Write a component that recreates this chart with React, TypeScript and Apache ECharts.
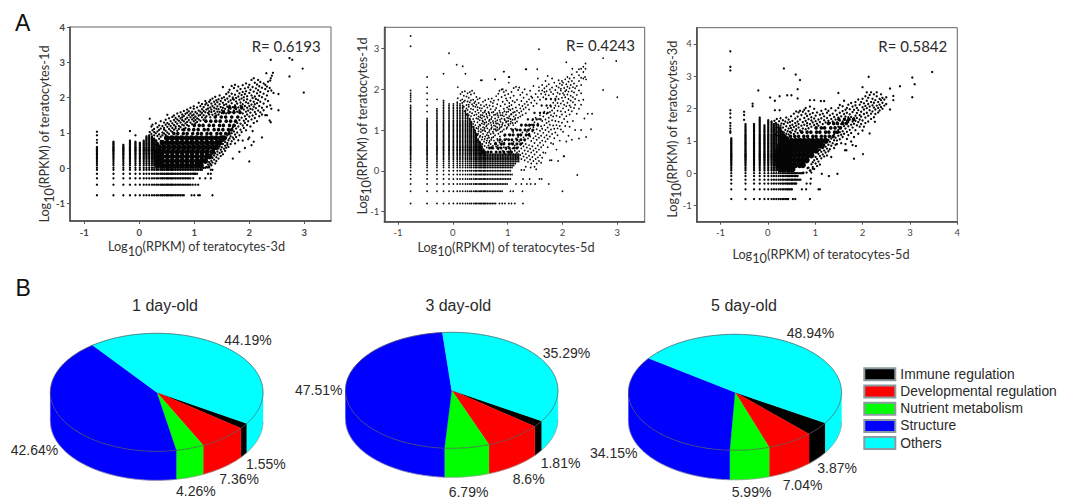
import React, { useEffect, useRef } from "react";
import * as echarts from "echarts";

// ---------- values ----------
const xTicks1 = [-1, 0, 1, 2, 3];
const yTicks1 = [-1, 0, 1, 2, 3, 4];
const xTicks2 = [-1, 0, 1, 2, 3];
const yTicks2 = [-1, 0, 1, 2, 3];
const xTicks3 = [-1, 0, 1, 2, 3, 4];
const yTicks3 = [-1, 0, 1, 2, 3, 4];

// Discrete log10(RPKM) levels visible as the stripes of the low range
const levelsX = [-.77,-.47,-.29,-.17,-.07,.01,.08,.13,.18,.23,.27,.31,.34,.38,.41,.43,.46,.49,.51,.53,.56,.58,.6,.63,.66,.69,.72,.75,.78,.81,.84,.87,.9,.93,.96,.99,1.02,1.05,1.08,1.11,1.14,1.17,1.2];
const lowY1 = [-.77,-.47,-.29,-.16,-.05,.01];
const lowY23 = [-.8,-.5,-.32,-.2,-.09,0];
const upperY = [.08,.13,.18,.23,.27,.31,.34,.38,.41,.43,.46,.49,.51,.53,.56,.58,.6,.63,.66,.69,.72,.75,.78,.81,.84,.87,.9,.93,.96,.99,1.02,1.05,1.08,1.11,1.14,1.17,1.2,1.24,1.28,1.32,1.36,1.4,1.44,1.48,1.52,1.56,1.6,1.64,1.68,1.72,1.76,1.8,1.85,1.9];

// Top of each visible stripe (by levelsX index); stripes past the list stop at the last value
const colTops1 = [.62,.75,.68,.8,.75,.73,.8,.9,.95,.9,.85,.8,.7,.6,.5,.45,.02];
const colTops2 = [1.6,1.3,1.55,1.72,1.65,1.65,1.7,1.65,1.6,1.5,1.4,1.3,1.2,1.1,1,.9,.8,.72,.66,.6,.55,.5,.46,.42];
const colTops3 = [1.1,1.55,1.55,1.75,1.5,1.65,1.6,1.55,1.55,1.45,1.4,1.3,1.2,1.15,1.1,1.1,1,.95,.01];
// Right end of each horizontal stripe (by row index); rows past the list stop at the last value
const rowEnds1 = [.82,.95,.95,1.05,1.15,1.2,1.2];
const rowEnds2 = [.78,.9,1,1.05,1.1,1.05,1.1,1.12,1.15,1.2];
const rowEnds3 = [.45,.52,.6,.7,.65,.75,.7,.75,.8];

// Solid parts of each cloud: [y, xs]
const core1: [number, number[]][] = [
  [.08,[.33,.42,.51,.6,.69,.78,.87,.96,1.05,1.12]],
  [.2,[.33,.42,.51,.6,.69,.78,.87,.96,1.05,1.13,1.2]],
  [.33,[.33,.42,.51,.6,.69,.78,.87,.96,1.05,1.14,1.23,1.28]],
  [.46,[.33,.42,.51,.6,.69,.78,.87,.96,1.05,1.14,1.23,1.33]],
  [.59,[.36,.45,.54,.63,.72,.81,.9,.99,1.08,1.17,1.26,1.35,1.4]],
  [.72,[.42,.51,.6,.69,.78,.87,.96,1.05,1.14,1.23,1.32,1.41,1.46]],
  [.85,[.5,.59,.68,.77,.86,.95,1.04,1.13,1.22,1.31,1.4,1.49,1.54]],
];
const mid1: [number, number[]][] = [
  [.98,[.63,.7,.8,.87,.97,1.06,1.13,1.23,1.3,1.41,1.48,1.57,1.63]],
  [1.09,[.81,.9,.99,1.07,1.18,1.25,1.36,1.44,1.52,1.62,1.68]],
  [1.21,[1,1.09,1.16,1.27,1.35,1.46,1.53,1.64,1.72]],
  [1.33,[1.21,1.3,1.39,1.47,1.58,1.66,1.75]],
  [1.45,[1.38,1.49,1.57,1.68,1.79]],
  [1.58,[1.53,1.63,1.72,1.83]],
  [1.72,[1.64,1.74,1.86]],
];
const core2: [number, number[]][] = [
  [.46,[.55,.64,.7,.79,.86,.93,1.02,1.07]],
  [.56,[.67,.72,.82,.88,.97,1.03,1.12,1.17]],
  [.66,[.78,.88,.93,1.03,1.09,1.17,1.24]],
  [.76,[.86,.95,1.02,1.08,1.17,1.24,1.31]],
  [.88,[.95,1.04,1.1,1.19,1.24,1.34,1.39]],
  [1,[1.09,1.17,1.23,1.32,1.38,1.46]],
  [1.12,[1.25,1.33,1.4,1.47,1.55]],
];
const mid2: [number, number[]][] = [
  [1.26,[1.37,1.46,1.53,1.6]],
  [1.42,[1.49,1.59,1.66,1.73]],
  [1.6,[1.62,1.71,1.78]],
  [1.76,[1.7,1.79,1.87]],
];
const core3: [number, number[]][] = [
  [.12,[.26,.35,.44,.52]],
  [.25,[.22,.31,.4,.49,.58,.67,.74]],
  [.4,[.2,.29,.38,.47,.56,.65,.74,.82]],
  [.55,[.2,.29,.38,.47,.56,.65,.74,.83,.92]],
  [.7,[.22,.31,.4,.49,.58,.67,.76,.85,.94,1.02]],
  [.85,[.26,.35,.44,.53,.62,.71,.8,.89,.98,1.07,1.14]],
  [1,[.32,.41,.5,.59,.68,.77,.86,.95,1.04,1.13,1.22]],
];
const mid3: [number, number[]][] = [
  [1.14,[.48,.57,.65,.76,.84,.95,1.02,1.13,1.21,1.3,1.38]],
  [1.27,[.72,.83,.91,1.03,1.1,1.22,1.29,1.41,1.47]],
  [1.4,[1.02,1.13,1.2,1.33,1.42,1.53]],
  [1.54,[1.28,1.39,1.47,1.58,1.66]],
  [1.67,[1.5,1.62,1.71,1.81]],
];

// Loose dots: [x, ys]
const loose1: [number, number[]][] = [
  [.19,[1.4,1.02]],[.22,[1.18,.97]],[.24,[1.07,1.23]],[.27,[.93,1.11,1.02]],[.3,[1.27,.99,.78,.66]],[.33,[1.04,.91,1.16,.71]],[.36,[1.21,.96,1.08,.83]],[.39,[1.12,1.33,.89,.77]],[.42,[1.01,1.19,.93]],[.45,[1.09,1.29,.98,1.14]],[.48,[.94,1.37,1.06,1.23]],[.51,[1.17,1.01,1.28,1.51]],[.54,[1.11,1.41,1.24,.97]],[.57,[1.33,1.06,1.19]],[.6,[1.02,1.45,1.27,1.14]],[.63,[1.22,1.36,1.09,1.49]],[.66,[1.31,1.13,1.42,1.18]],[.69,[1.06,1.55,1.26,1.38]],[.72,[1.47,1.19,1.34,1.11]],[.75,[1.29,1.58,1.16,1.41]],[.78,[1.23,1.44,1.09,1.36,1.52]],[.81,[1.33,1.62,1.21,1.48]],[.84,[1.27,1.54,1.39,1.14]],[.87,[1.43,1.66,1.31,1.57,1.22]],[.9,[1.36,1.5,1.19,1.61]],[.93,[1.29,1.71,1.44,1.55]],[.96,[1.38,1.6,1.24,1.49]],[.99,[1.33,1.68,1.52,1.42,1.75]],[1.02,[1.46,1.27,1.59,1.36]],[1.05,[1.41,1.72,1.55,1.31]],[1.08,[1.63,1.38,1.85,1.49]],[1.11,[1.51,1.34,1.76,1.6]],[1.14,[1.44,1.67,1.82,1.56]],[1.17,[1.37,1.73,1.5,1.62]],[1.2,[1.58,1.9,1.43,1.8]],
  [1.22,[.03,1.47,1.66,1.84]],[1.25,[.1,1.56,1.78,1.69]],[1.27,[.05,.17,1.52,1.88,1.61]],[1.29,[.12,1.72,1.44,1.93]],[1.31,[.21,.08,1.83,1.59,1.66]],[1.33,[.16,.29,1.51,1.76,1.97]],[1.36,[.24,.36,1.62,1.88,1.71]],[1.38,[.13,.42,1.55,1.81,2.02]],[1.4,[.31,.2,1.68,1.92,1.49]],[1.42,[.47,.38,1.75,1.6,1.87]],[1.44,[.27,.56,1.95,1.67,1.52]],[1.46,[.43,.62,1.81,1.59,2.06]],[1.48,[.34,.52,.7,1.73,1.9]],[1.5,[.59,.46,1.64,1.98,1.56]],[1.52,[.68,.39,.77,1.85,2.3,1.71]],[1.54,[.55,.83,1.79,1.62,2.01]],[1.56,[.63,.49,.74,1.93,1.68]],[1.58,[.86,.58,2.1,1.81,1.55]],[1.6,[.71,.93,.66,1.74,1.97]],[1.62,[.79,.6,1.88,1.64,2.15]],[1.64,[.97,.84,1.03,2.04,1.77,2.22]],[1.66,[.68,.9,1.69,1.92,1.58]],[1.68,[1.08,.76,.99,1.84,2.11,2.33]],[1.7,[.27,.87,1.16,1.73,2,1.96]],[1.72,[.82,1.04,1.94,1.63,2.27]],[1.74,[.95,.7,1.21,1.78,2.08,2.36]],[1.76,[1.12,.88,1.67,1.99,1.89]],[1.78,[1.01,1.28,1.83,2.19,1.6]],[1.8,[.79,1.18,1.72,2.03,2.31]],[1.82,[.46,.93,1.36,1.94,1.64,2.12]],[1.84,[1.09,1.26,1.77,2.24,1.86]],[1.86,[1.43,1.02,1.69,2.07,1.97]],[1.88,[.78,1.21,1.55,1.81,2.35,2.16]],[1.9,[1.14,1.34,1.92,1.66,2.01]],[1.92,[.57,1.28,1.47,1.76,2.26,2.1]],[1.94,[1.07,1.39,1.6,1.87,2.4,2.18]],[1.96,[1.22,1.52,1.71,2.04,1.95]],[1.98,[.82,1.33,1.63,1.84,2.29]],[2,[.19,.87,1.46,1.76,2.13,2.36]],[2.02,[1.18,1.57,1.91,2.22,1.68]],[2.04,[.65,1.38,1.8,2.06,2.5]],[2.06,[1.05,1.49,1.66,1.99,2.3]],[2.08,[1.28,1.74,1.88,2.17,2.55]],[2.1,[1.42,1.59,2.03,2.42,1.81]],[2.12,[1.53,1.96,2.26,1.7]],[2.14,[1.33,1.84,2.12,2.37]],[2.16,[1.63,2.21,1.93,2.5]],[2.18,[1.47,1.76,2.05,2.32]],[2.2,[1.58,1.88,2.16,2.44]],[2.23,[.87,1.71,2.01,2.28,1.52]],[2.26,[1.83,2.11,2.4,1.64]],[2.29,[1.5,1.95,2.24,2.36]],[2.32,[2.06,1.74,2.31]],[2.34,[1.9,2.18,2.45]],
];
const outliers1: number[][] = [[2.39,3.07],[2.73,3.12],[2.78,3.07],[2.97,2.82],[2.73,2.6],[2.99,2.14],[2.31,2.69],[2.43,2.7],[2.41,2.62],[2.39,2.55],[2.38,2.48],[2.37,2.27],[2.4,2.2],[2.44,2.13],[2.53,2.1],[2.38,1.78],[2.4,1.68],[2.53,1.64],[2.32,1.5],[2.37,1.35],[2.39,1.3],[2.08,.75],[.95,-.77],[1,-.77],[1.07,-.77],[1.1,-.77],[1.33,-.77],[.97,-.47],[1.02,-.47],[1.07,-.47],[.98,-.29],[1.1,-.29],[1.2,-.29],[1.3,-.29],[1,-.16],[1.25,-.16],[1.3,-.16],[1.3,-.05],[1.33,-.05],[1.24,.02],[1.27,.02],[-.77,.72],[-.77,.8],[-.77,.93],[-.77,1.03],[-.17,1.05],[-.07,.93]];

const loose2: [number, number[]][] = [
  [.09,[1.78,2.05]],[.14,[1.72,1.88]],[.17,[1.75,1.93,1.66]],[.2,[1.57,1.84,1.69]],[.22,[1.72,1.95,1.46]],[.25,[1.61,1.38,1.82,1.53]],[.27,[1.49,1.9,1.7,1.28]],[.29,[1.36,1.57,1.79,1.62]],[.31,[1.44,1.25,1.68,1.93]],[.33,[1.18,1.52,1.73,1.34,1.87]],[.35,[1.41,1.63,1.08,1.96]],[.37,[1.27,1.5,1.74,1.15,1.59]],[.39,[1,1.36,1.66,1.9,1.21]],[.41,[1.12,1.45,1.57,.94,1.7]],[.43,[1.29,1.05,1.62,1.38,1.81]],[.45,[.88,1.19,1.49,1.75,1.56]],[.47,[1.08,1.33,.97,1.66,1.42]],[.49,[.83,1.24,1.54,1.13,1.78]],[.51,[.95,1.37,1.02,1.61,1.47]],[.53,[.77,1.16,1.29,1.53,2.22]],[.55,[.9,1.42,1.07,1.69,1.21]],[.57,[.72,1,1.33,1.58,1.14]],[.59,[.84,1.26,.97,1.48,1.73]],[.61,[.68,1.09,1.39,1.19,1.62]],[.63,[.79,.93,1.3,1.55,1.04]],[.65,[.62,1.15,.86,1.44,1.76]],[.67,[.73,1,1.25,1.36,1.6]],[.69,[.66,.9,1.18,1.51,1.69]],[.71,[.81,1.07,1.32,1.43,1.77]],[.73,[.61,.96,1.22,1.58,1.66]],[.75,[.74,1.11,1.37,1.02,1.72]],[.77,[.87,.67,1.28,1.49,2.24]],[.79,[.59,.98,1.16,1.54,1.83]],[.81,[.78,1.06,1.41,1.24,1.63]],[.83,[.53,.91,1.31,1.74,1.89]],[.85,[.7,1.13,1.47,1.03,1.96]],[.87,[.45,1.2,.95,1.59,1.36]],[.89,[.64,1.08,1.28,1.81,1.99]],[.91,[.49,1.17,1.42,1.69,2]],[.93,[.58,1.01,1.34,1.52,1.93,2.43]],[.95,[.42,1.24,1.11,1.63,1.85]],[.97,[.53,1.38,1.19,1.77,1.97]],[.99,[.47,1.07,1.3,1.55,1.72]],[1.01,[.59,1.22,1.45,1.14,1.88]],[1.03,[.41,1.34,1.66,1.58,2.3]],[1.05,[.51,1.16,1.27,1.49,1.79]],[1.07,[.44,.67,1.39,1.61,1.93]],[1.09,[.55,1.25,1.17,1.71,1.52]],[1.11,[.38,.71,1.33,1.84,2.03]],[1.13,[.49,.62,1.44,1.26,1.68]],[1.15,[.36,.79,1.37,1.55,2.06]],[1.17,[.45,.66,1.21,1.74,1.47]],[1.19,[.33,.58,.83,1.3,1.98]],[1.21,[.48,.72,1.42,1.62,2.04]],[1.23,[.39,.64,.89,1.53,1.33,1.86]],[1.25,[.29,.55,.77,1.46,1.71]],[1.27,[.43,.68,.94,1.59,1.37,1.92]],[1.29,[.35,.6,.82,1.51,1.79]],[1.31,[.26,.5,.74,1.01,1.64,2]],[1.33,[.41,.87,.66,1.55,1.41,2.49]],[1.35,[.32,.57,.96,1.69,1.87]],[1.37,[.22,.48,.79,1.11,1.61]],[1.39,[.37,.63,.91,1.75,1.5]],[1.41,[.28,.54,.84,1.04,1.96]],[1.43,[.18,.45,.73,1.13,1.67,1.82]],[1.45,[.34,.6,.97,1.79,1.24]],[1.47,[.24,.5,.8,1.07,1.59,2.08]],[1.49,[.1,.4,.68,.93,1.72,1.19]],[1.51,[.29,.55,.85,1.3,1.88]],[1.53,[.18,.46,.76,1.02,1.65]],[1.55,[.33,.62,.9,1.16,1.81,2.26]],[1.57,[.24,.52,.81,1.27,1.96,2.05]],[1.59,[.38,.69,.98,1.36,1.74]],[1.61,[.2,.58,.86,1.09,1.89]],[1.63,[.32,.74,1.03,1.22,2.1,1.97]],[1.65,[.45,.63,.93,1.33,1.8]],[1.67,[.82,1.12,1.45,1.93,2.02]],[1.69,[.44,.72,1,1.26,1.87,2.2]],[1.71,[.87,1.17,1.4,2.07,1.95]],[1.73,[.58,.78,1.06,1.54,2.32]],[1.75,[.96,1.3,1.21,1.85,2.12]],[1.77,[.26,.84,1.13,1.44,1.99]],[1.79,[.68,1.01,1.36,1.57,1.93]],[1.81,[.9,1.24,1.48,2.04,2.26]],[1.83,[.66,1.11,1.33,1.67,1.88]],[1.85,[.8,1.03,1.54,1.41,2.16]],[1.87,[.94,1.22,1.72,1.6,1.98]],[1.89,[.52,1.12,1.35,1.82,2.08]],[1.91,[.87,1.04,1.47,1.66,1.91]],[1.93,[1.2,1.58,1.76,2.22,2.04]],[1.95,[.74,1.1,1.32,1.88,2.14]],[1.97,[1.01,1.46,1.65,1.97,2.01]],[1.99,[1.18,1.38,1.79,2.1,2.2]],[2.01,[.96,1.53,1.71,1.9,2.16]],[2.03,[.36,1.27,1.62,2.03,1.86]],[2.05,[1.1,1.44,1.8,2.24,1.95]],[2.07,[.72,1.34,1.58,1.98,2.12]],[2.09,[1.2,1.67,1.87,2.3,2.06]],[2.11,[.86,1.49,1.76,1.94,2.18]],[2.13,[1.08,1.38,1.6,2.02,2.26]],[2.15,[1.56,1.84,2.1,1.72]],[2.17,[.76,1.46,1.95,2.36,2.2]],[2.19,[1.22,1.68,1.8,2.05]],[2.21,[1.54,1.92,2.14,2.28]],[2.23,[1,1.62,1.76,2.02]],[2.26,[1.4,1.86,2.08,2.42]],[2.3,[1.52,1.72,1.97,2.2,2.34]],[2.34,[1.62,1.9,2.1,2.28,2.5]],[2.38,[1.74,2.26,2.42,2.55]],
  [.46,[.74,.91,1.27,1.03]],[.5,[.69,.86,1.11,1.31]],[.54,[.66,.83,.99,1.23,1.36]],[.58,[.61,.78,1.05,1.18,1.44]],[.62,[.57,.74,.88,1.12,1.34]],[.66,[.69,.81,.95,1.22,1.41]],[.7,[.58,.76,1.03,1.12,1.27]],[.74,[.55,.83,.92,1.17,1.44]],[.78,[.69,1.02,1.09,1.21,1.38]],[.82,[.62,.74,1,1.16,1.36]],[.86,[.57,.84,1.07,1.25,1.42]],[.9,[.72,.97,1.13,1.36]],[.94,[.68,.86,1.27,1.46]],[.98,[.78,1.03,1.21,1.44]],[1.02,[.89,1.11,1.29,1.51]],[1.06,[1.03,1.21,1.38]],[1.1,[.95,1.12,1.43]],[1.14,[1.03,1.17,1.29]],
];
const outliers2: number[][] = [[-.77,3.3],[-.77,3.05],[-.77,1.97],[-.77,1.9],[-.77,1.85],[-.77,1.8],[-.77,1.75],[-.77,1.7],[-.47,2.3],[-.47,2.05],[-.47,1.9],[-.47,1.75],[-.47,1.6],[-.47,1.45],[-.29,1.75],[-.17,2.38],[-.07,2.88],[.07,2.6],[.18,2.56],[.23,2.38],[.51,2.22],[.77,2.24],[.93,2.43],[1.02,2.3],[1.02,2.16],[1.34,2.49],[1.54,2.49],[1.57,2.98],[2.07,2.66],[2.74,2.76],[2.98,2.69],[2.74,1.98],[3,1.8],[2.42,2.63],[2.42,2.5],[2.41,2.3],[2.43,2.24],[2.18,2.5],[2.3,2.49],[2.27,-.1],[2,-.5],[1.92,.24],[2.02,.36],[1.8,.26],[2.46,1.4],[2.54,1.4],[2.52,1.02],[2.43,.83],[2.3,.79],[2.34,1],[2.4,1.28],[1.28,-.2],[1.4,-.2],[1.58,-.2],[1.62,-.2],[1.15,-.32],[1.25,-.32],[1.35,-.32],[1.42,-.32],[1.5,-.32],[1.75,-.32],[1.05,-.5],[1.1,-.5],[1.27,-.5],[.85,-.8],[.9,-.8],[.95,-.8],[1.02,-.8],[1.07,-.8],[1.13,-.8],[1.28,-.8],[1.25,.02],[1.3,.02],[1.33,.1],[1.42,.08],[1.52,.04]];

const loose3: [number, number[]][] = [
  [.14,[1.62,1.33]],[.17,[1.55,1.21]],[.19,[1.41,1.68]],[.22,[1.27,1.5,1.16]],[.24,[1.36,1.61,1.08]],[.27,[1.22,1.47,1.7]],[.29,[1.13,1.54,1.3]],[.32,[1.41,1.64,1.19]],[.34,[1.26,1.52,1.08]],[.37,[1.34,1.15,1.6]],[.39,[1.45,1.22,1.72]],[.42,[1.11,1.56,1.3]],[.44,[1.38,1.66,1.2]],[.47,[1.28,1.47,1.58]],[.49,[1.4,1.76,1.25]],[.52,[1.33,1.62,1.5]],[.55,[1.43,1.21,1.84]],[.58,[1.29,1.55,1.69]],[.6,[1.36,1.47,1.91]],[.63,[1.24,1.6,1.75]],[.65,[1.41,1.52,1.88]],[.68,[1.32,1.66,1.93]],[.71,[1.47,1.27,1.8]],[.74,[1.38,1.58,1.9]],[.77,[1.5,1.71,1.96]],[.8,[1.36,1.62,1.84,2.02]],[.83,[1.47,1.77,1.55]],[.86,[1.39,1.67,1.92,.17]],[.89,[1.52,1.82,2.06,.08]],[.92,[1.44,1.63,1.73,.28,.02]],[.95,[1.57,1.86,.19,.34]],[.98,[1.49,1.69,1.99,.4,.13]],[1.01,[1.61,1.78,.3,.5]],[1.04,[1.53,1.88,.22,.44]],[1.07,[1.66,1.47,.36,.6]],[1.1,[1.58,1.81,.53,.27,.72]],[1.13,[1.7,1.93,.46,.66]],[1.16,[1.52,1.84,.58,.78]],[1.19,[1.64,1.76,.7,.52,.88]],[1.22,[1.57,1.98,.64,.82]],[1.25,[1.71,1.87,.76,.96,.55]],[1.28,[1.62,1.93,.88,.68,1.03]],[1.31,[1.55,1.79,.97,.74]],[1.34,[1.68,2.01,.85,1.07,.5]],[1.37,[1.6,1.84,.93,1.13]],[1.4,[1.74,1.52,1.02,.78,1.2]],[1.43,[1.66,1.94,1.1,.88]],[1.46,[1.81,1.57,1.26,1.01,.9]],[1.49,[1.34,1.72,1.16,2.02,1.44]],[1.52,[1.27,1.63,1.87,1.05,2.11]],[1.55,[1.41,1.76,1.19,1.52,.93]],[1.58,[1.3,1.92,1.6,1.12,2.07]],[1.61,[1.46,1.68,1.22,1.83,2.24]],[1.64,[.9,1.38,1.55,1.75,1.96]],[1.67,[1.06,1.28,1.62,1.87,2.02]],[1.7,[1.45,1.18,1.73,1.58,2.12]],[1.73,[1.34,1.66,1.82,1.98]],[1.76,[.98,1.5,1.24,1.74,2.17]],[1.79,[1.41,1.6,1.89,2.06]],[1.82,[1.12,1.7,1.53,1.96]],[1.85,[1.33,1.78,1.62,2.1,2.2]],[1.88,[1.48,1.86,1.71,2.02]],[1.91,[1.22,1.58,1.95,2.28]],[1.94,[1.66,1.8,2.12,1.44]],[1.97,[1.52,1.75,1.9,2.2]],[2,[1.32,1.63,2.04,2.3]],[2.03,[1.44,1.83,1.97,2.16]],[2.06,[1.72,1.55,2.08,2.38]],[2.09,[1.87,2.24,2.01,2.5]],[2.12,[1.6,1.78,2.14,2.33]],[2.15,[1.95,2.06,2.42]],[2.18,[1.84,2.2,1.68,2.5]],[2.21,[1.91,2.1,2.3]],[2.24,[1.73,2.03,2.18,2.44]],[2.27,[1.97,2.26,1.83]],[2.3,[2.09,2.38,2.5]],[2.33,[1.88,2.2,2.02]],[2.36,[2.12,2.3,1.94]],[2.39,[2.26,2.05,2.44]],[2.42,[1.99,2.18,2.33]],[2.46,[2.09,2.28]],[2.5,[2.14,2.35]],
];
const outliers3: number[][] = [[-.79,3.77],[-.79,3.29],[-.79,3.18],[-.79,1.95],[-.79,1.85],[-.79,1.72],[-.79,1.55],[-.79,1.47],[-.79,1.38],[-.79,1.3],[-.79,1.25],[-.5,1.65],[-.5,1.8],[-.5,1.9],[.34,3.24],[.59,3.05],[.68,2.88],[.63,2.6],[.63,2.31],[.5,2.41],[.41,2.41],[.25,2.38],[.05,2.34],[-.2,2.56],[-.32,2.15],[-.32,2.07],[.15,2.24],[.15,1.95],[.25,1.95],[.89,2.26],[.98,2.26],[1.12,2.23],[1.19,2.23],[1.49,2.48],[2.13,2.98],[2,2.66],[3.05,2.96],[3.1,2.75],[3.05,2.35],[3.47,3.13],[2.79,2.69],[2.58,2.62],[2.65,2.39],[2.65,2.26],[2.58,1.97],[2.26,1.59],[2.15,1.23],[2.01,.59],[1.82,.45],[1.86,.84],[1.79,.87],[1.63,.71],[1.66,.71],[1.47,-.02],[1.29,-.09],[1.14,-.02],[.89,-.8],[.58,-.8],[.53,-.8],[1.07,-.5],[1.1,-.5],[.9,-.32],[.82,-.32],[.72,-.5],[.81,-.5],[.91,-.17],[.75,.02],[.82,.02],[.9,.08],[.84,.16],[.95,.14]];

const categories = ["Immune regulation", "Developmental regulation", "Nutrient metabolism", "Structure", "Others"];
const sliceColors = ["#000000", "#ff0000", "#00ff00", "#0000ff", "#00ffff"];
const pieTitles = ["1 day-old", "3 day-old", "5 day-old"];
const pieValues1 = [1.55, 7.36, 4.26, 42.64, 44.19];
const pieValues2 = [1.81, 8.6, 6.79, 47.51, 35.29];
const pieValues3 = [3.87, 7.04, 5.99, 34.15, 48.94];
const correlations = ["R= 0.6193", "R= 0.4243", "R= 0.5842"];
const xNames = ["3d", "5d", "5d"];
const yNames = ["1d", "1d", "3d"];

// ---------- layout ----------
const FONT = "Lato";
const ARIAL = '"Liberation Sans"';
const NAME_SIZE = 12.7;
const plotBoxes = [
  { left: 70, top: 27, width: 261, height: 194, xMin: -1.26, xMax: 3.485, yMin: -1.5, yMax: 4, xT: xTicks1, yT: yTicks1, bold: 700, xShift: 8, yShift: 20, xGap: 14, yGap: 15, size: 2.3 },
  { left: 384.3, top: 27.3, width: 260.4, height: 194.4, xMin: -1.25, xMax: 3.5, yMin: -1.245, yMax: 3.515, xT: xTicks2, yT: yTicks2, bold: 400, xShift: 17, yShift: 3, xGap: 14, yGap: 11.5, size: 1.7 },
  { left: 696.7, top: 27.7, width: 260.6, height: 194, xMin: -1.5, xMax: 4, yMin: -1.5, yMax: 4.5, xT: xTicks3, yT: yTicks3, bold: 400, xShift: 12, yShift: 9, xGap: 21, yGap: 14, size: 2.3 },
];
const pieGeometry = [
  { cx: 156.7, cy: 392.3, rx: 106.3, ry: 59, depth: 29, titleX: 165, labels: [[246, 464], [219.3, 478.7], [176, 490.7], [10.7, 450], [224.3, 340]] },
  { cx: 451.7, cy: 390.3, rx: 106.2, ry: 58, depth: 29, titleX: 458.3, labels: [[540.7, 463.3], [512.7, 479.3], [448.7, 491.5], [295, 390], [542.7, 353.3]] },
  { cx: 735, cy: 392.3, rx: 106.5, ry: 58, depth: 29.5, titleX: 744, labels: [[817.3, 468.3], [782.7, 484.7], [731.7, 491.5], [590, 452.7], [786.7, 333.3]] },
];
const START_ANGLE = 32;

const lattice = (lowY: number[], tops: number[], ends: number[]) => {
  const ys = [...lowY, ...upperY];
  const out: number[][] = [];
  levelsX.forEach((x, i) => {
    const top = tops[Math.min(i, tops.length - 1)];
    ys.forEach((y, j) => {
      const end = ends[Math.min(j, ends.length - 1)];
      if (y <= top && x <= end) out.push([x, y]);
    });
  });
  return out;
};
const fromColumns = (cols: [number, number[]][]) => cols.flatMap(([x, ys]) => ys.map((y) => [x, y]));
const fromRows = (rows: [number, number[]][]) => rows.flatMap(([y, xs]) => xs.map((x) => [x, y]));

const dots = (data: number[][], i: number, size: number) => ({
  type: "scatter", xAxisIndex: i, yAxisIndex: i, data, symbol: "circle", symbolSize: size,
  itemStyle: { color: "#050505", opacity: 1 }, silent: true,
});

const piePoints = (g: any, a0: number, a1: number, dy: number) => {
  const pts: number[][] = [];
  const n = Math.max(2, Math.ceil(a1 - a0));
  for (let k = 0; k <= n; k++) {
    const a = ((a0 + ((a1 - a0) * k) / n) * Math.PI) / 180;
    pts.push([g.cx + g.rx * Math.cos(a), g.cy + g.ry * Math.sin(a) + dy]);
  }
  return pts;
};

const pieSeries = (values: number[], g: any) => ({
  type: "custom", coordinateSystem: "none", silent: true, z: 5,
  data: values.map((v, i) => ({ name: categories[i], value: v })),
  renderItem: (params: any) => {
    const i = params.dataIndex;
    const total = values.reduce((s, v) => s + v, 0);
    const before = values.slice(0, i).reduce((s, v) => s + v, 0);
    const a0 = START_ANGLE + (before / total) * 360;
    const a1 = a0 + (values[i] / total) * 360;
    const color = sliceColors[i];
    const children: any[] = [];
    [[0, 180], [360, 540]].forEach(([lo, hi]) => {
      const s = Math.max(a0, lo), e = Math.min(a1, hi);
      if (e > s) {
        const up = piePoints(g, s, e, 0);
        const low = piePoints(g, s, e, g.depth);
        children.push({ type: "polygon", shape: { points: [...up, ...low.reverse()] }, style: { fill: color, stroke: color, lineWidth: 0.3 } });
        children.push({ type: "polyline", shape: { points: piePoints(g, s, e, g.depth) }, style: { fill: "none", stroke: "#999", lineWidth: 0.7 } });
      }
    });
    children.push({ type: "polygon", shape: { points: [[g.cx, g.cy], ...piePoints(g, a0, a1, 0)] }, style: { fill: color, stroke: color, lineWidth: 0.3 } });
    children.push({ type: "polyline", shape: { points: piePoints(g, a0, a1, 0) }, style: { fill: "none", stroke: "#555", lineWidth: 0.7 } });
    return { type: "group", children };
  },
});

const text = (t: string, x: number, y: number, font: string, fill = "#2a2a2a", align = "left") => ({
  type: "text", z: 20, silent: true,
  style: { text: t, x, y, font, fill, align, verticalAlign: "middle", textAlign: align, textVerticalAlign: "middle" },
});

export default function App() {
  const ref = useRef<HTMLDivElement>(null);
  useEffect(() => {
    const chart = echarts.init(ref.current!, undefined, { renderer: "svg" });
    const subStyle = { s: { fontFamily: FONT, fontSize: NAME_SIZE, color: "#333", padding: [7, 0, 0, 0], verticalAlign: "bottom", lineHeight: 22 } };
    const option: any = {
      animation: false,
      backgroundColor: "#ffffff",
      grid: plotBoxes.map((b) => ({ left: b.left, top: b.top, width: b.width, height: b.height, show: true, borderColor: "#666", borderWidth: 1, backgroundColor: "transparent" })),
      xAxis: plotBoxes.map((b, i) => ({
        type: "value", gridIndex: i, min: b.xMin, max: b.xMax, splitLine: { show: false },
        axisLine: { onZero: false, lineStyle: { color: "#444", width: 1.5 } },
        axisTick: { length: 3, customValues: b.xT, lineStyle: { color: "#555" } },
        axisLabel: { customValues: b.xT, margin: 6, fontFamily: FONT, fontSize: 9.5, fontWeight: b.bold, color: "#444" },
        name: `Log{s|10}(RPKM) of teratocytes-${xNames[i]}`, nameLocation: "middle", nameGap: b.xGap, nameMoveOverlap: false,
        nameTextStyle: { fontFamily: FONT, fontSize: NAME_SIZE, color: "#333", padding: [0, b.xShift, 0, 0], rich: subStyle },
      })),
      yAxis: plotBoxes.map((b, i) => ({
        type: "value", gridIndex: i, min: b.yMin, max: b.yMax, splitLine: { show: false },
        axisLine: { onZero: false, lineStyle: { color: "#444", width: 1.5 } },
        axisTick: { length: 3, customValues: b.yT, lineStyle: { color: "#555" } },
        axisLabel: { customValues: b.yT, margin: 5, fontFamily: FONT, fontSize: 9.5, fontWeight: b.bold, color: "#444" },
        name: `Log{s|10}(RPKM) of teratocytes-${yNames[i]}`, nameLocation: "middle", nameGap: b.yGap, nameMoveOverlap: false,
        nameTextStyle: { fontFamily: FONT, fontSize: NAME_SIZE, color: "#333", padding: [0, b.yShift, 0, 0], rich: subStyle },
      })),
      legend: {
        orient: "vertical", left: 863.3, top: 367.3, padding: 0, itemWidth: 31, itemHeight: 12, itemGap: 3.2, icon: "rect",
        data: categories, selectedMode: false,
        textStyle: { fontFamily: ARIAL, fontSize: 13.8, color: "#2a2a2a", lineHeight: 12 },
      },
      series: [
        dots(lattice(lowY1, colTops1, rowEnds1), 0, plotBoxes[0].size),
        dots(fromRows(core1), 0, 5.8),
        dots(fromRows(mid1), 0, 3.6),
        dots([...fromColumns(loose1), ...outliers1], 0, plotBoxes[0].size),
        dots(lattice(lowY23, colTops2, rowEnds2), 1, plotBoxes[1].size),
        dots(fromRows(core2), 1, 3),
        dots(fromRows(mid2), 1, 2.4),
        dots([...fromColumns(loose2), ...outliers2], 1, plotBoxes[1].size),
        dots(lattice(lowY23, colTops3, rowEnds3), 2, plotBoxes[2].size),
        dots(fromRows(core3), 2, 6.2),
        dots(fromRows(mid3), 2, 3.6),
        dots([...fromColumns(loose3), ...outliers3], 2, plotBoxes[2].size),
        pieSeries(pieValues1, pieGeometry[0]),
        pieSeries(pieValues2, pieGeometry[1]),
        pieSeries(pieValues3, pieGeometry[2]),
        ...categories.map((name, i) => ({
          type: "scatter", name, data: [], xAxisIndex: 0, yAxisIndex: 0,
          itemStyle: { color: sliceColors[i], borderColor: "#8a9aa0", borderWidth: 0.6, opacity: 1 },
        })),
      ],
      graphic: [
        text("A", 15, 23, `23px ${ARIAL}`, "#111"),
        text("B", 15.5, 288, `23px ${ARIAL}`, "#111"),
        text(correlations[0], 251.7, 45.7, `15px ${FONT}`),
        text(correlations[1], 566, 45.3, `15px ${FONT}`),
        text(correlations[2], 878.3, 45.7, `15px ${FONT}`),
        ...pieTitles.map((t, i) => text(t, pieGeometry[i].titleX, 305, `16px ${ARIAL}`, "#2a2a2a", "center")),
        ...[pieValues1, pieValues2, pieValues3].flatMap((vals, p) =>
          vals.map((v, i) => text(`${v}%`, pieGeometry[p].labels[i][0], pieGeometry[p].labels[i][1], `14px ${ARIAL}`))
        ),
      ],
    };
    chart.setOption(option);
    return () => chart.dispose();
  }, []);
  return <div ref={ref} style={{ position: "absolute", left: 0, top: 0, width: 1065, height: 500, background: "#fff" }} />;
}
